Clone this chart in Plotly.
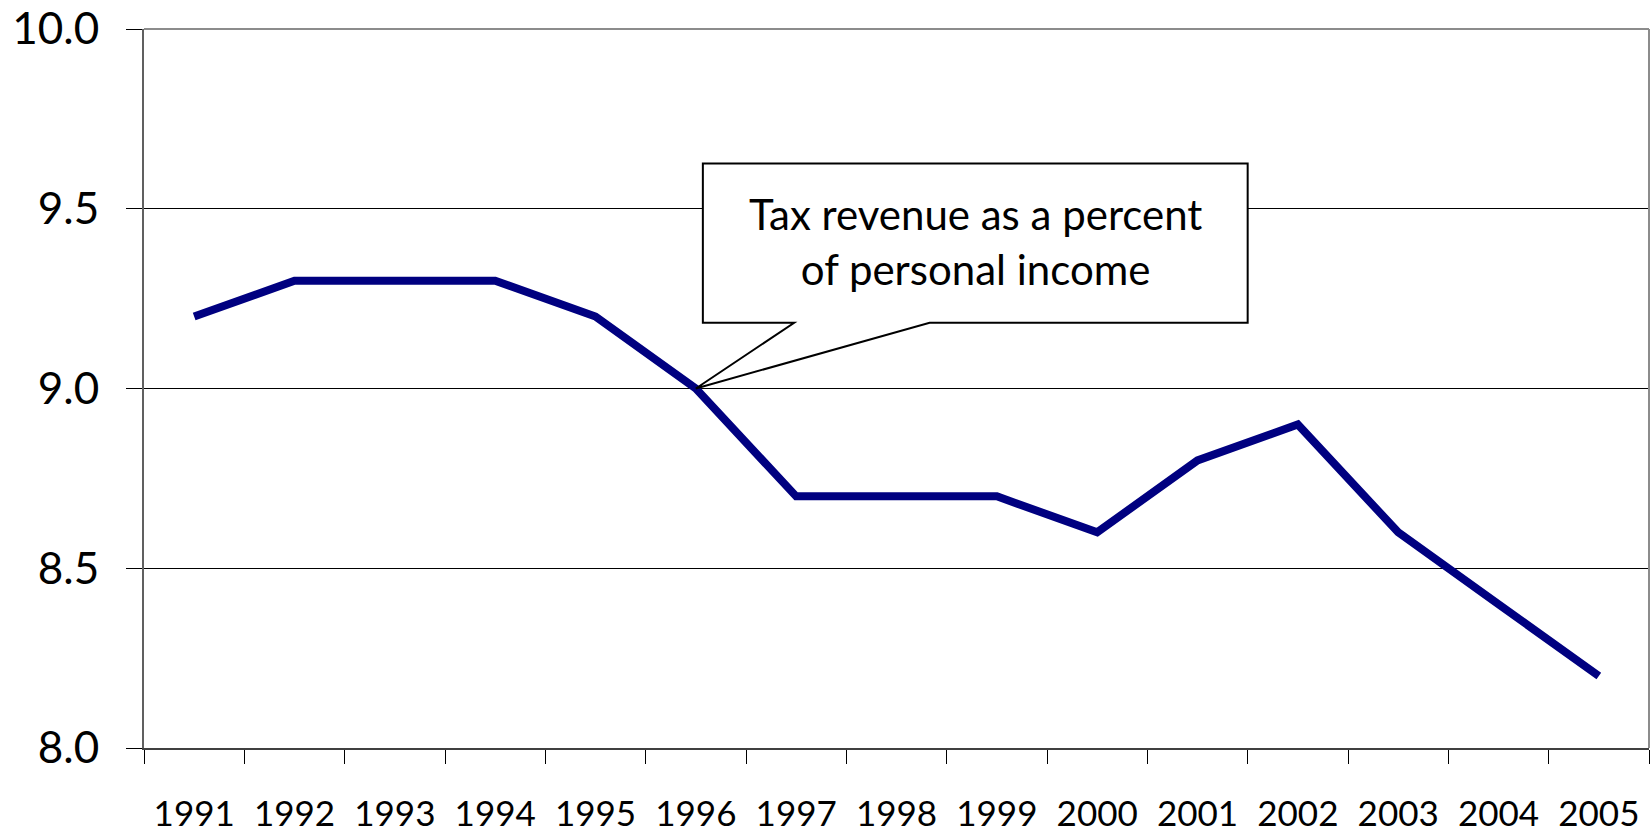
import plotly.graph_objects as go

# Tax revenue as a share of personal income, 1991-2005
years = ["1991", "1992", "1993", "1994", "1995", "1996", "1997", "1998",
         "1999", "2000", "2001", "2002", "2003", "2004", "2005"]
tax_share = [9.2, 9.3, 9.3, 9.3, 9.2, 9.0, 8.7, 8.7, 8.7, 8.6, 8.8, 8.9, 8.6, 8.4, 8.2]

y_ticks = [8.0, 8.5, 9.0, 9.5, 10.0]
y_tick_text = ["8.0", "8.5", "9.0", "9.5", "10.0"]

callout_year = "1996"
callout_text = "Tax revenue as a percent<br>of personal income"

font_family = "Lato, Open Sans, sans-serif"

fig = go.Figure()
fig.add_trace(go.Scatter(
    x=years, y=tax_share, mode="lines",
    line=dict(color="#000080", width=8),
    hoverinfo="skip", showlegend=False,
))

# callout balloon pointing at the chosen year's value
ci = years.index(callout_year)
tip_x, tip_y = ci, tax_share[ci]
bx0, bx1 = 5.07, 10.50
by0, by1 = 9.183, 9.626
p0, p1 = 5.98, 7.33
path = (f"M {bx0},{by1} L {bx1},{by1} L {bx1},{by0} L {p1},{by0} "
        f"L {tip_x},{tip_y} L {p0},{by0} L {bx0},{by0} Z")

fig.update_layout(
    width=1650, height=836,
    margin=dict(l=144, r=1, t=29, b=88),
    paper_bgcolor="white", plot_bgcolor="white",
    xaxis=dict(
        type="category", range=[-0.5, len(years) - 0.5],
        tickson="boundaries", ticks="outside", ticklen=14, tickwidth=1,
        tickcolor="#000000", showgrid=False, showline=True,
        linecolor="#404040", linewidth=2, automargin=False,
        tickfont=dict(family=font_family, size=35, color="#000000"),
        ticklabelstandoff=34,
    ),
    yaxis=dict(
        range=[8.0, 10.0], tickvals=y_ticks, ticktext=y_tick_text,
        ticks="outside", ticklen=16, tickwidth=1, tickcolor="#000000",
        showgrid=True, gridcolor="#000000", gridwidth=1,
        showline=True, linecolor="#606060", linewidth=2, zeroline=False,
        tickfont=dict(family=font_family, size=44, color="#000000"),
        ticklabelstandoff=18, ticklabeloverflow="allow", automargin=False,
    ),
    shapes=[
        # plot-area frame, top and right
        dict(type="line", xref="paper", yref="paper", x0=0, x1=1, y0=1, y1=1,
             line=dict(color="#8c8c8c", width=2), layer="above"),
        dict(type="line", xref="paper", yref="paper", x0=1, x1=1, y0=0, y1=1,
             line=dict(color="#8c8c8c", width=2), layer="above"),
        dict(type="path", xref="x", yref="y", path=path,
             fillcolor="white", line=dict(color="#000000", width=2),
             layer="above"),
    ],
    annotations=[
        dict(xref="x", yref="y", x=(bx0 + bx1) / 2, y=(by0 + by1) / 2,
             text=callout_text, showarrow=False, yshift=2,
             font=dict(family=font_family, size=42, color="#000000"),
             align="center"),
    ],
)

fig.write_html("out.html")
